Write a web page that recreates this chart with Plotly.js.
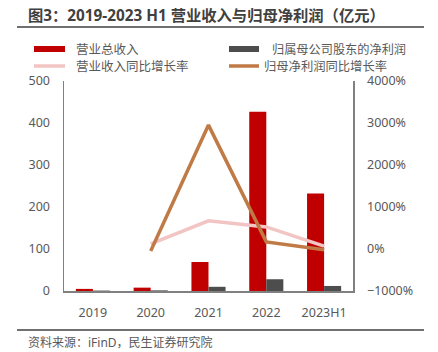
<!DOCTYPE html>
<html><head><meta charset="utf-8">
<script src="https://cdn.plot.ly/plotly-3.0.1.min.js"></script>
<style>html,body{margin:0;padding:0;background:#fff}#c{width:438px;height:352px}</style>
</head><body><div id="c"></div>
<script>
const categories = ['2019','2020','2021','2022','2023H1'];
const revenue = [5, 8, 69, 427, 232];
const netProfit = [1, 1.5, 10, 28, 12];
const revenueGrowth = [null, 120, 670, 525, 70];
const profitGrowth = [null, -50, 2950, 170, -20];

const F = 'Noto Sans, Noto Sans CJK SC, sans-serif';
const txt = '#595959';
const traces = [
  {type:'bar', x:categories, y:revenue, name:'营业总收入', marker:{color:'#c00000'}, offsetgroup:'a'},
  {type:'bar', x:categories, y:netProfit, name:'归属母公司股东的净利润', marker:{color:'#4d4d4d'}, offsetgroup:'b'},
  {type:'scatter', mode:'lines', x:categories, y:revenueGrowth, yaxis:'y2', name:'营业收入同比增长率', line:{color:'#f2c4c4', width:3.5}},
  {type:'scatter', mode:'lines', x:categories, y:profitGrowth, yaxis:'y2', name:'归母净利润同比增长率', line:{color:'#c07a45', width:3.5}}
];
const H = 352, W = 438;
const M = {l:64, r:85, t:81, b:61};
const PW = W - M.l - M.r, PH = H - M.t - M.b;
function px(x){return (x - M.l)/PW;} function py(y){return (H - M.b - y)/PH;}
const shapes = [
  {type:'line', xref:'paper', yref:'paper', x0:px(17), x1:px(424), y0:py(27), y1:py(27), line:{color:'#404040', width:1.5}},
  {type:'line', xref:'paper', yref:'paper', x0:px(17), x1:px(424), y0:py(330), y1:py(330), line:{color:'#404040', width:1.5}},
  {type:'rect', xref:'paper', yref:'paper', x0:px(34), x1:px(65), y0:py(46), y1:py(52), fillcolor:'#c00000', line:{width:0}},
  {type:'rect', xref:'paper', yref:'paper', x0:px(229), x1:px(259), y0:py(46), y1:py(52), fillcolor:'#4d4d4d', line:{width:0}},
  {type:'line', xref:'paper', yref:'paper', x0:px(34), x1:px(65), y0:py(66), y1:py(66), line:{color:'#f2c4c4', width:3.5}},
  {type:'line', xref:'paper', yref:'paper', x0:px(229), x1:px(259), y0:py(66), y1:py(66), line:{color:'#c07a45', width:3.5}}
];
const ann = (x,y,t,size,opts={}) => Object.assign({xref:'paper', yref:'paper', x:px(x), y:py(y), text:t, showarrow:false, xanchor:'left', yanchor:'middle', font:{family:F, size:size, color:txt}}, opts);
const annotations = [
  ann(26,15,'<b>图3：2019-2023 H1 营业收入与归母净利润（亿元）</b>',15.3,{font:{family:F,size:15.3,color:'#404040'}}),
  ann(74,49,'营业总收入',12.5),
  ann(270,49,'归属母公司股东的净利润',12.2),
  ann(74,66,'营业收入同比增长率',12.5),
  ann(262,66,'归母净利润同比增长率',12.3),
  ann(26,342,'资料来源：iFinD，民生证券研究院',12)
];
const layout = {
  width:W, height:H, margin:M,
  paper_bgcolor:'#fff', plot_bgcolor:'#fff', showlegend:false,
  font:{family:F, size:12, color:txt},
  bargap:0.41, bargroupgap:0,
  xaxis:{type:'category', showline:true, linecolor:'#808080', linewidth:1.5, ticks:'', ticklabelstandoff:9, tickfont:{size:12.5,color:txt}, showgrid:false, zeroline:false},
  yaxis:{range:[0,500], dtick:100, showline:true, linecolor:'#808080', linewidth:1.5, showgrid:false, zeroline:false, ticks:'', ticklabelstandoff:10, tickfont:{size:12.5,color:txt}},
  yaxis2:{range:[-1000,4000], dtick:1000, ticksuffix:'%', overlaying:'y', side:'right', showline:true, linecolor:'#808080', linewidth:1.5, showgrid:false, zeroline:false, ticks:'', ticklabelstandoff:10, tickfont:{size:12.5,color:txt}},
  shapes:shapes, annotations:annotations
};
Plotly.newPlot('c', traces, layout, {displayModeBar:false, staticPlot:true});
</script></body></html>
